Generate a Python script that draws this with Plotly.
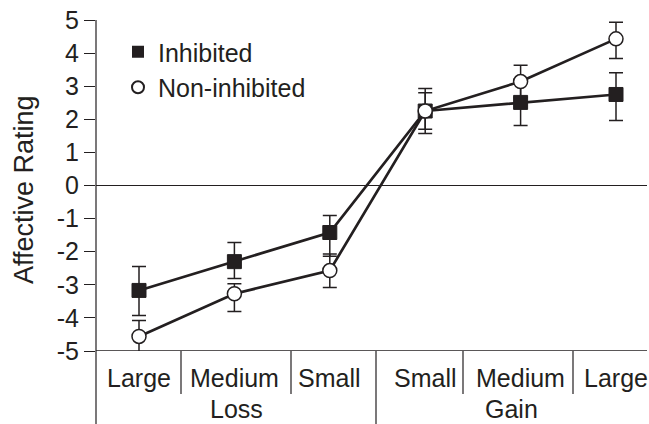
import plotly.graph_objects as go

categories = ["Large", "Medium", "Small", "Small", "Medium", "Large"]
groups = ["Loss", "Gain"]
y_ticks = [5, 4, 3, 2, 1, 0, -1, -2, -3, -4, -5]

inhibited = [-3.17, -2.30, -1.42, 2.25, 2.51, 2.75]
inhibited_err_plus = [0.72, 0.58, 0.51, 0.68, 0.70, 0.66]
inhibited_err_minus = [0.76, 0.51, 0.72, 0.68, 0.70, 0.79]

noninhibited = [-4.56, -3.27, -2.57, 2.25, 3.14, 4.43]
noninhibited_err_plus = [0.48, 0.30, 0.50, 0.55, 0.49, 0.50]
noninhibited_err_minus = [0.58, 0.54, 0.51, 0.55, 0.49, 0.59]

INK = "#231f20"
FONT = "Liberation Sans, Arial, Helvetica, sans-serif"
xs = list(range(len(categories)))

fig = go.Figure()

fig.add_trace(go.Scatter(
    x=xs, y=inhibited, mode="lines+markers", showlegend=False, hoverinfo="skip",
    line=dict(color=INK, width=2.7),
    marker=dict(symbol="square", size=14, color=INK, line=dict(color=INK, width=1)),
    error_y=dict(type="data", symmetric=False, array=inhibited_err_plus,
                 arrayminus=inhibited_err_minus, color=INK, thickness=1.5, width=7),
))
fig.add_trace(go.Scatter(
    x=xs, y=noninhibited, mode="lines+markers", showlegend=False, hoverinfo="skip",
    line=dict(color=INK, width=2.7),
    marker=dict(symbol="circle", size=14, color="white", line=dict(color=INK, width=1.5)),
    error_y=dict(type="data", symmetric=False, array=noninhibited_err_plus,
                 arrayminus=noninhibited_err_minus, color=INK, thickness=1.5, width=7),
))
# legend entries
fig.add_trace(go.Scatter(x=[None], y=[None], mode="markers", name="Inhibited",
                         marker=dict(symbol="square", size=13, color=INK)))
fig.add_trace(go.Scatter(x=[None], y=[None], mode="markers", name="Non-inhibited",
                         marker=dict(symbol="circle", size=13, color="white",
                                     line=dict(color=INK, width=1.3))))

W, H = 649, 424
PL, PR, PT, PB = 96, 647, 20, 351   # plot area in pixels
L, R, T, B = PL, W - PR, PT, H - PB
pw = PR - PL
ph = PB - PT
px_per_unit = 95.4
x0_px = 139
xmin = -(x0_px - PL) / px_per_unit
xmax = xmin + pw / px_per_unit

def py(pix):
    return (PB - pix) / ph

def pxp(pix):
    return (pix - PL) / pw

def xd(pix):
    return (pix - x0_px) / px_per_unit

shapes = []
shapes.append(dict(type="line", xref="paper", yref="y", x0=0, x1=1, y0=0, y1=0,
                   line=dict(color=INK, width=1.2)))
shapes.append(dict(type="line", xref="paper", yref="y", x0=0, x1=1, y0=-5, y1=-5,
                   line=dict(color=INK, width=1.5)))
shapes.append(dict(type="line", xref="paper", yref="paper", x0=0, x1=0, y0=1, y1=py(424),
                   line=dict(color=INK, width=1.2)))
for d in [181, 291, 463, 573]:
    shapes.append(dict(type="line", xref="x", yref="paper", x0=xd(d), x1=xd(d), y0=0, y1=py(394),
                       line=dict(color=INK, width=1.2)))
shapes.append(dict(type="line", xref="x", yref="paper", x0=xd(376), x1=xd(376), y0=0, y1=py(424),
                   line=dict(color=INK, width=1.2)))

annotations = []
for i, c in enumerate(categories):
    annotations.append(dict(x=i, y=py(378), xref="x", yref="paper", text=c, showarrow=False,
                            font=dict(size=25, color=INK, family=FONT),
                            xanchor="center", yanchor="middle"))
for g, c in zip(groups, [(96 + 376) / 2, (376 + 646) / 2]):
    annotations.append(dict(x=xd(c), y=py(409), xref="x", yref="paper", text=g, showarrow=False,
                            font=dict(size=25, color=INK, family=FONT),
                            xanchor="center", yanchor="middle"))
annotations.append(dict(x=pxp(24), y=py(190), xref="paper", yref="paper", text="Affective Rating",
                        textangle=-90, showarrow=False,
                        font=dict(size=27, color=INK, family=FONT),
                        xanchor="center", yanchor="middle"))

fig.update_layout(
    width=W, height=H,
    margin=dict(l=L, r=R, t=T, b=B, pad=0),
    plot_bgcolor="white", paper_bgcolor="white",
    font=dict(family=FONT, color=INK, size=25),
    hovermode=False,
    xaxis=dict(range=[xmin, xmax], showticklabels=False, showgrid=False, zeroline=False,
               showline=False, ticks=""),
    yaxis=dict(range=[-5, 5], tickvals=y_ticks, ticktext=[str(v) for v in y_ticks],
               showgrid=False, zeroline=False, showline=False,
               ticks="outside", ticklen=11, tickwidth=1.2, tickcolor=INK,
               ticklabeloverflow="allow",
               tickfont=dict(size=25, color=INK, family=FONT)),
    legend=dict(x=pxp(118), y=py(29), xanchor="left", yanchor="top",
                bgcolor="rgba(0,0,0,0)", font=dict(size=25, color=INK, family=FONT),
                itemsizing="constant", tracegroupgap=0),
    shapes=shapes,
    annotations=annotations,
)

fig.write_html(
    "out.html",
    config={"displayModeBar": False},
    post_script="document.body.style.margin='0';document.body.style.overflow='hidden';",
)
